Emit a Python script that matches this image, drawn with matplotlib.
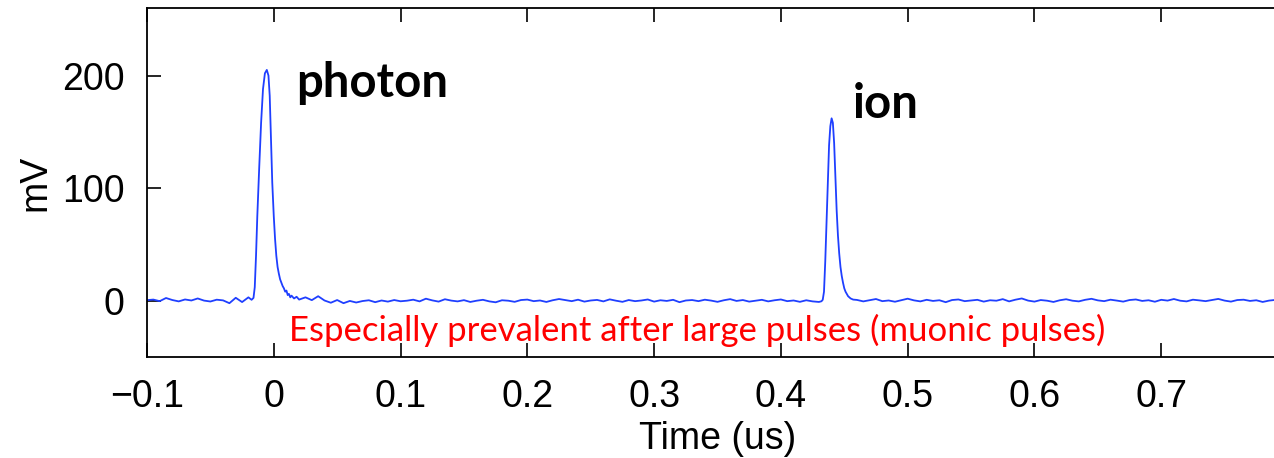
import numpy as np
import matplotlib
matplotlib.use('Agg')
import matplotlib.pyplot as plt

plt.rcParams['font.family'] = ['Liberation Sans', 'DejaVu Sans']

# baseline before the photon pulse (mV), sampled every 5 ns
pre_mv = [0.5, 1.0, -0.4, 2.4, 0.6, -0.6, 1.1, 0.2, 2.0, 0.1, -0.7, 0.9, 0.3, -2.2, 2.6, -1.2, 3.0]
pre_start, pre_stop = -0.100, -0.020

# photon pulse
photon_t = [-0.0175, -0.0160, -0.0150, -0.0140, -0.0130, -0.0115, -0.0100, -0.0085, -0.0070,
            -0.0055, -0.0042, -0.0032, -0.0022, -0.0012, 0.0000, 0.0010, 0.0020, 0.0030,
            0.0040, 0.0050, 0.0060, 0.0070, 0.0080, 0.0090, 0.0100, 0.0110, 0.0120, 0.0130,
            0.0140, 0.0160, 0.0180, 0.0200]
photon_mv = [0.8, 2.5, 12, 40, 75, 118, 158, 188, 202,
             205, 200, 182, 145, 105, 75, 55, 40, 30,
             24, 19, 16, 13, 11, 8, 9, 5, 6, 3,
             4.5, 2, 3.5, 1.0]

# baseline between the pulses
mid_mv = [3.0, 0.5, 4.0, 0.2, -1.8, 0.6, -2.2, -0.2, -1.6, -0.3, 0.4, -1.3, 0.2, -0.8,
          0.6, -0.5, 0.0, 0.9, -0.6, 1.8, 0.3, -0.8, 1.3, 0.1, -0.6, 0.5, -1.1, 0.0,
          0.8, -0.6, -1.4, 0.4, 0.0, -1.0, 0.6, 1.0, -0.4, 0.2, -1.1, 0.4, 1.5, 0.5,
          -0.4, 0.9, -0.8, 0.2, 0.7, -0.6, 1.2, 0.0, -1.0, 0.6, -0.4, 0.2, 1.1, -0.8,
          0.4, -0.2, 0.8, -1.3, 0.2, 0.6, -0.4, 0.9, 0.1, -1.0, 0.4, 1.4, -0.2, 0.6,
          -0.8, 0.0, 0.8, -0.6, 0.4, 1.1, -0.4, 0.2, -1.0, 0.4, -0.6, -1.1]
mid_start, mid_stop = 0.025, 0.430

# ion pulse
ion_t = [0.4320, 0.4330, 0.4340, 0.4350, 0.4360, 0.4370, 0.4380, 0.4390, 0.4400, 0.4410,
         0.4420, 0.4430, 0.4440, 0.4450, 0.4460, 0.4470, 0.4480, 0.4490, 0.4500, 0.4510,
         0.4520, 0.4530, 0.4540, 0.4550, 0.4570]
ion_mv = [-0.5, 0.8, 8, 35, 70, 105, 138, 155, 162, 158,
          140, 110, 80, 58, 42, 30, 22, 16, 11, 8,
          6, 4, 3, 2, 1]

# baseline after the ion pulse
post_mv = [0.7, -0.6, 0.4, 1.5, -0.4, 0.2, -0.9, 0.5, 1.8, 0.3, -0.6, 0.8, -0.2, 0.4,
           -1.3, 0.6, 1.1, -0.4, 0.2, 0.8, -0.8, 0.4, 0.0, 1.4, -0.6, 0.9, 2.0, 0.1,
           -0.8, 0.6, 0.0, -1.1, 0.4, 1.3, 0.0, -0.6, 0.8, 1.7, 0.3, -0.4, 0.9, 0.1,
           -0.8, 0.6, 1.1, -0.2, 0.4, -0.9, 0.8, 0.1, 1.5, 0.0, -0.6, 0.9, 0.3, -0.4,
           0.6, 1.6, 0.1, -0.8, 0.6, 0.9, -0.2, 0.4, -1.1, 0.1, 0.7]
post_start, post_stop = 0.460, 0.790

xticks = [-0.1, 0, 0.1, 0.2, 0.3, 0.4, 0.5, 0.6, 0.7]
xticklabels = ['\u22120.1', '0', '0.1', '0.2', '0.3', '0.4', '0.5', '0.6', '0.7']
yticks = [0, 100, 200]

# stitch the trace together
t = np.concatenate([np.linspace(pre_start, pre_stop, len(pre_mv)), photon_t,
                    np.linspace(mid_start, mid_stop, len(mid_mv)), ion_t,
                    np.linspace(post_start, post_stop, len(post_mv))])
v = np.concatenate([pre_mv, photon_mv, mid_mv, ion_mv, post_mv])

fig = plt.figure(figsize=(12.74, 4.58), dpi=100)
ax = fig.add_axes([147/1274, 101/458, 1141/1274, 349/458])
ax.plot(t, v, color='#1f3fff', lw=1.3)

ax.set_xlim(-0.1, 0.8)
ax.set_ylim(-50, 260)
ax.set_xticks(xticks)
ax.set_xticklabels(xticklabels)
ax.set_yticks(yticks)
ax.tick_params(direction='in', length=10, width=1.2, labelsize=27, top=True, pad=16)
ax.tick_params(axis='x', pad=16)
for s in ax.spines.values():
    s.set_linewidth(1.3)

ax.set_xlabel('Time (us)', fontsize=27, labelpad=4)
ax.set_ylabel('mV', fontsize=27, labelpad=6)

ax.text(0.018, 181, 'photon', fontsize=34, family=['Lato', 'DejaVu Sans'],
        weight='bold', va='baseline')
ax.text(0.4565, 162, 'ion', fontsize=34, family=['Lato', 'DejaVu Sans'],
        weight='bold', va='baseline')
ax.text(0.0118, -36, 'Especially prevalent after large pulses (muonic pulses)',
        fontsize=25, color='red', family=['Lato', 'DejaVu Sans'], va='baseline')

fig.savefig('out.png', dpi=100)
